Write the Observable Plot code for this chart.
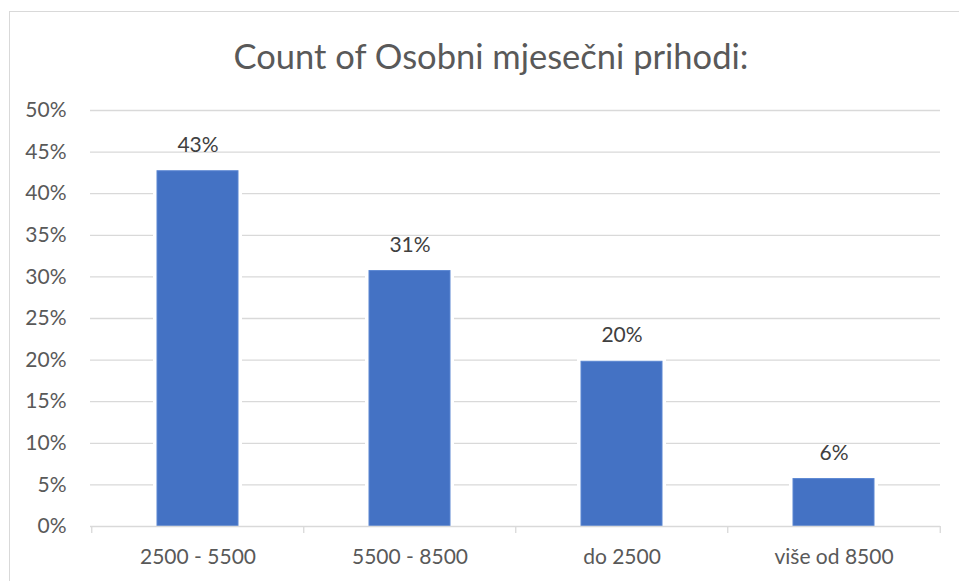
<!DOCTYPE html>
<html>
<head>
<meta charset="utf-8">
<script src="https://cdn.jsdelivr.net/npm/d3@7"></script>
<script src="https://cdn.jsdelivr.net/npm/@observablehq/plot@0.6"></script>
<style>
  html, body { margin: 0; padding: 0; width: 959px; height: 581px; overflow: hidden; background: #fff; }
  #frame { position: absolute; left: 9px; top: 11px; width: 980px; height: 600px; border: 1px solid #d9d9d9; box-sizing: border-box; }
  #title { position: absolute; left: 0; top: 35px; width: 982px; text-align: center; font-family: Lato, sans-serif; font-size: 34.5px; color: #595959; white-space: nowrap; }
  #chart { position: absolute; left: 0; top: 0; }
</style>
</head>
<body>
<div id="frame"></div>
<div id="title"></div>
<div id="chart"></div>
<script>
const titleText = "Count of Osobni mjesečni prihodi:";
const categories = ["2500 - 5500", "5500 - 8500", "do 2500", "više od 8500"];
const shares = [0.427, 0.307, 0.198, 0.057];
const shareLabels = ["43%", "31%", "20%", "6%"];
const yTickValues = [0, 0.05, 0.10, 0.15, 0.20, 0.25, 0.30, 0.35, 0.40, 0.45, 0.50];

const data = categories.map((c, i) => ({category: c, share: shares[i], label: shareLabels[i]}));

document.getElementById("title").textContent = titleText;

const W = 959, H = 581, mL = 90, mR = 19, mT = 110, mB = 55;
const step = (W - mL - mR) / categories.length;
const font = "Lato, sans-serif";

const chart = Plot.plot({
  width: W,
  height: H,
  marginLeft: mL,
  marginRight: mR,
  marginTop: mT,
  marginBottom: mB,
  style: {fontFamily: font, fontSize: "21px", color: "#595959", background: "transparent", overflow: "visible"},
  x: {domain: categories, paddingInner: 0.62, paddingOuter: 0.31, label: null},
  y: {domain: [0, 0.5], label: null},
  marks: [
    Plot.ruleY(yTickValues.slice(1), {stroke: "#d9d9d9", strokeWidth: 1.3}),
    Plot.barY(data, {x: "category", y: "share", fill: "white", stroke: "white", strokeWidth: 8}),
    Plot.barY(data, {x: "category", y: "share", fill: "#4472c4", stroke: "#5a86d2", strokeWidth: 1}),
    Plot.ruleY([0], {stroke: "#d9d9d9", strokeWidth: 1.3}),
    Plot.ruleX(categories, {x: d => d, y1: 0, y2: 0, insetBottom: -7, dx: -step / 2, stroke: "#d9d9d9", strokeWidth: 1.3}),
    Plot.ruleX(categories.slice(-1), {x: d => d, y1: 0, y2: 0, insetBottom: -7, dx: step / 2, stroke: "#d9d9d9", strokeWidth: 1.3}),
    Plot.text(data, {x: "category", y: "share", text: "label", dy: -26, fill: "#404040", fontSize: 21}),
    Plot.axisY({ticks: yTickValues, tickFormat: d3.format(".0%"), tickSize: 0, tickPadding: 24, fill: "#595959", fontSize: 21, label: null}),
    Plot.axisX({tickSize: 0, tickPadding: 23, fill: "#595959", fontSize: 21, label: null})
  ]
});
document.getElementById("chart").appendChild(chart);
</script>
</body>
</html>
